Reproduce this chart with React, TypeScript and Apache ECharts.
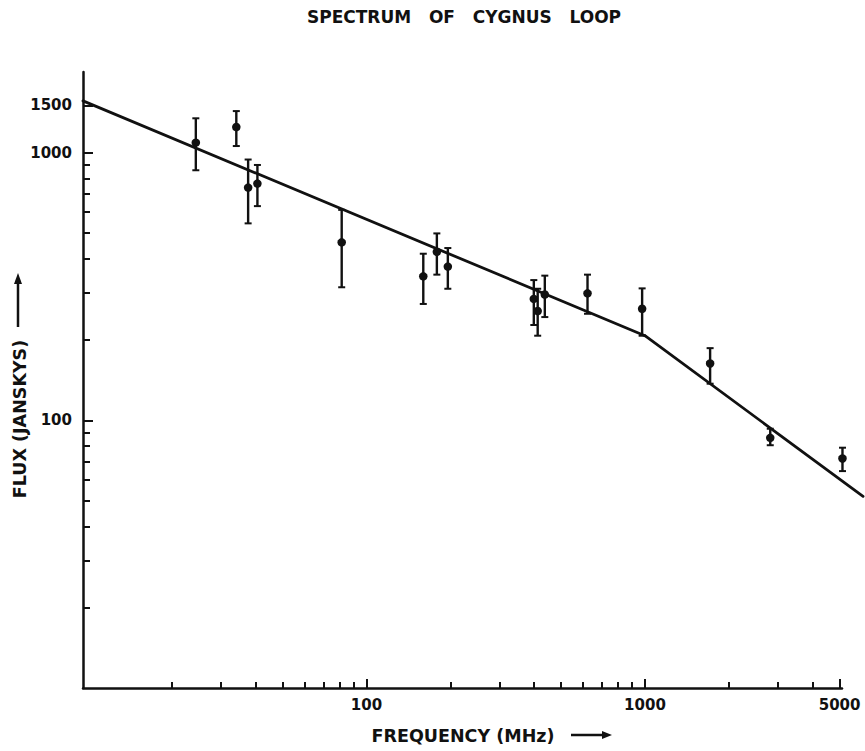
import React, { useEffect, useRef } from "react";
import * as echarts from "echarts";

// Measured flux densities (MHz, Jy) with error-bar limits
const freq = [24.4, 34.1, 37.6, 40.6, 81.5, 160, 179, 196, 399, 412, 437, 622, 977, 1714, 2818, 5120];
const flux = [1089, 1246, 740, 766, 462, 345, 426, 375, 284, 256, 295, 298, 261, 163, 86, 72];
const fluxHigh = [1343, 1429, 942, 899, 611, 419, 499, 440, 334, 310, 347, 350, 311, 186, 93, 79];
const fluxLow = [859, 1058, 544, 631, 314, 272, 350, 310, 227, 207, 243, 250, 207, 137, 80.7, 64.6];

// Fitted broken power-law spectrum
const fitFreq = [9.6, 1000, 6070];
const fitFlux = [1560, 207, 52];

// Tick labels
const xLabels = [100, 1000, 5000];
const xMinor = [20, 30, 40, 50, 60, 70, 80, 90, 200, 300, 400, 500, 600, 700, 800, 900, 2000, 3000, 4000];
const yLabels = [100, 1000, 1500];
const yMinor = [20, 30, 40, 50, 60, 70, 80, 90, 200, 300, 400, 500, 600, 700, 800, 900];

const FONT = "DejaVu Sans";
const INK = "#111";

export default function App() {
  const ref = useRef<HTMLDivElement>(null);

  useEffect(() => {
    if (!ref.current) return;
    const chart = echarts.init(ref.current, null, { renderer: "svg" });

    const xCommon = {
      type: "log" as const,
      min: 9.6,
      max: 5100,
      position: "bottom" as const,
      splitLine: { show: false },
      gridIndex: 0,
    };
    const yCommon = {
      type: "log" as const,
      min: 10,
      max: 2000,
      position: "left" as const,
      splitLine: { show: false },
      gridIndex: 0,
    };

    const segs = fitFreq.slice(0, -1).map((f, i) => [f, fitFlux[i], fitFreq[i + 1], fitFlux[i + 1]]);

    chart.setOption({
      animation: false,
      backgroundColor: "#fff",
      grid: { left: 83, top: 72, right: 23, bottom: 63, containLabel: false },
      xAxis: [
        {
          ...xCommon,
          axisLine: { show: true, lineStyle: { color: INK, width: 2.5 } },
          axisTick: { show: true, inside: true, length: 9, customValues: xLabels, lineStyle: { color: INK, width: 2 } },
          axisLabel: {
            show: true,
            customValues: xLabels,
            formatter: (v: number) => String(Math.round(v)),
            color: INK,
            fontFamily: FONT,
            fontWeight: "bold",
            fontSize: 15,
            margin: 9,
          },
        },
        {
          ...xCommon,
          axisLine: { show: false },
          axisTick: { show: true, inside: true, length: 6, customValues: xMinor, lineStyle: { color: INK, width: 2 } },
          axisLabel: { show: false },
        },
      ],
      yAxis: [
        {
          ...yCommon,
          axisLine: { show: true, lineStyle: { color: INK, width: 2.5 } },
          axisTick: { show: true, inside: true, length: 10, customValues: yLabels, lineStyle: { color: INK, width: 2 } },
          axisLabel: {
            show: true,
            customValues: yLabels,
            formatter: (v: number) => String(Math.round(v)),
            color: INK,
            fontFamily: FONT,
            fontWeight: "bold",
            fontSize: 15,
            margin: 11,
          },
        },
        {
          ...yCommon,
          axisLine: { show: false },
          axisTick: { show: true, inside: true, length: 7, customValues: yMinor, lineStyle: { color: INK, width: 2 } },
          axisLabel: { show: false },
        },
      ],
      graphic: [
        {
          type: "text",
          x: 464,
          y: 17,
          style: {
            text: "SPECTRUM   OF   CYGNUS   LOOP",
            fontFamily: FONT,
            fontWeight: "bold",
            fontSize: 17,
            fill: INK,
            align: "center",
            verticalAlign: "middle",
          },
        },
        {
          type: "text",
          x: 463,
          y: 736,
          style: {
            text: "FREQUENCY (MHz)",
            fontFamily: FONT,
            fontWeight: "bold",
            fontSize: 17.5,
            fill: INK,
            align: "center",
            verticalAlign: "middle",
          },
        },
        { type: "line", shape: { x1: 571, y1: 735, x2: 604, y2: 735 }, style: { stroke: INK, lineWidth: 2.5 } },
        { type: "polygon", shape: { points: [[602, 731], [612, 735], [602, 739]] }, style: { fill: INK } },
        {
          type: "text",
          x: 20,
          y: 419,
          rotation: Math.PI / 2,
          style: {
            text: "FLUX (JANSKYS)",
            fontFamily: FONT,
            fontWeight: "bold",
            fontSize: 17.5,
            fill: INK,
            align: "center",
            verticalAlign: "middle",
          },
        },
        { type: "line", shape: { x1: 18, y1: 327, x2: 18, y2: 282 }, style: { stroke: INK, lineWidth: 2.5 } },
        { type: "polygon", shape: { points: [[14, 284], [18, 273], [22, 284]] }, style: { fill: INK } },
      ],
      series: [
        {
          type: "custom",
          xAxisIndex: 0,
          yAxisIndex: 0,
          clip: false,
          data: segs,
          renderItem: (_params: any, api: any) => {
            const a = api.coord([api.value(0), api.value(1)]);
            const b = api.coord([api.value(2), api.value(3)]);
            return {
              type: "line",
              shape: { x1: a[0], y1: a[1], x2: b[0], y2: b[1] },
              style: { stroke: INK, lineWidth: 2.8, lineCap: "round" },
            };
          },
          z: 3,
        },
        {
          type: "custom",
          xAxisIndex: 0,
          yAxisIndex: 0,
          clip: false,
          data: freq.map((f, i) => [f, fluxLow[i], fluxHigh[i]]),
          renderItem: (_params: any, api: any) => {
            const x = api.value(0);
            const lo = api.coord([x, api.value(1)]);
            const hi = api.coord([x, api.value(2)]);
            const cap = 3.5;
            return {
              type: "group",
              children: [
                { type: "line", shape: { x1: lo[0], y1: lo[1], x2: hi[0], y2: hi[1] }, style: { stroke: INK, lineWidth: 2.4 } },
                { type: "line", shape: { x1: hi[0] - cap, y1: hi[1], x2: hi[0] + cap, y2: hi[1] }, style: { stroke: INK, lineWidth: 2 } },
                { type: "line", shape: { x1: lo[0] - cap, y1: lo[1], x2: lo[0] + cap, y2: lo[1] }, style: { stroke: INK, lineWidth: 2 } },
              ],
            };
          },
          z: 4,
        },
        {
          type: "scatter",
          xAxisIndex: 0,
          yAxisIndex: 0,
          clip: false,
          data: freq.map((f, i) => [f, flux[i]]),
          symbol: "circle",
          symbolSize: 8.5,
          itemStyle: { color: INK, opacity: 1 },
          z: 5,
        },
      ],
    });

    return () => chart.dispose();
  }, []);

  return (
    <div
      ref={ref}
      style={{ position: "absolute", left: 0, top: 0, width: 865, height: 751, background: "#fff" }}
    />
  );
}
